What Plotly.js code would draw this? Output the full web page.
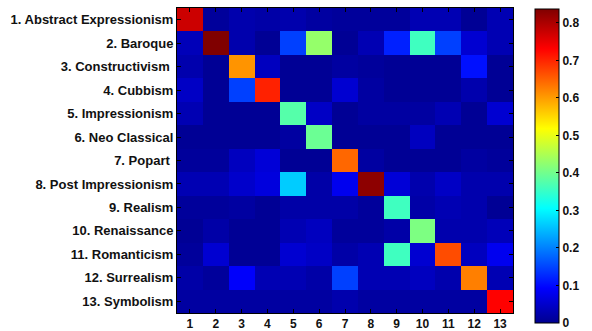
<!DOCTYPE html>
<html>
<head>
<meta charset="utf-8">
<script src="https://cdn.plot.ly/plotly-3.0.1.min.js"></script>
<style>html,body{margin:0;padding:0;background:#fff;}#chart{width:592px;height:331px;}</style>
</head>
<body>
<div id="chart"></div>
<script>
var classLabels = ["1. Abstract Expressionism", "2. Baroque", "3. Constructivism\u00a0", "4. Cubbism",
  "5. Impressionism", "6. Neo Classical", "7. Popart\u00a0", "8. Post Impressionism", "9. Realism",
  "10. Renaissance", "11. Romanticism", "12. Surrealism", "13. Symbolism"];
var predictedLabels = [1,2,3,4,5,6,7,8,9,10,11,12,13];
var rowAbstract = [0.773, 0.01, 0.025, 0.02, 0.025, 0.015, 0.01, 0.01, 0.01, 0.03, 0.03, 0.005, 0.03];
var rowBaroque = [0.035, 0.837, 0.025, 0.005, 0.146, 0.43, 0.005, 0.03, 0.12, 0.358, 0.146, 0.055, 0.03];
var rowConstructivism = [0.025, 0.005, 0.607, 0.04, 0.005, 0.005, 0.015, 0.01, 0.005, 0.005, 0.005, 0.106, 0.005];
var rowCubbism = [0.045, 0.005, 0.146, 0.703, 0.005, 0.005, 0.055, 0.015, 0.005, 0.005, 0.005, 0.025, 0.005];
var rowImpressionism = [0.03, 0.005, 0.005, 0.005, 0.376, 0.045, 0.005, 0.015, 0.015, 0.015, 0.03, 0.005, 0.055];
var rowNeoClassical = [0.005, 0.005, 0.005, 0.005, 0.015, 0.395, 0.005, 0.005, 0.005, 0.04, 0.005, 0.005, 0.005];
var rowPopart = [0.01, 0.01, 0.04, 0.06, 0.005, 0.005, 0.645, 0.015, 0.005, 0.005, 0.005, 0.015, 0.01];
var rowPostImpressionism = [0.03, 0.03, 0.05, 0.065, 0.263, 0.02, 0.08, 0.826, 0.06, 0.025, 0.045, 0.025, 0.025];
var rowRealism = [0.01, 0.01, 0.015, 0.005, 0.02, 0.02, 0.02, 0.01, 0.358, 0.02, 0.03, 0.025, 0.005];
var rowRenaissance = [0.005, 0.02, 0.005, 0.005, 0.03, 0.04, 0.01, 0.01, 0.02, 0.41, 0.025, 0.025, 0.035];
var rowRomanticism = [0.01, 0.055, 0.005, 0.005, 0.055, 0.045, 0.02, 0.03, 0.358, 0.055, 0.667, 0.04, 0.08];
var rowSurrealism = [0.02, 0.01, 0.09, 0.03, 0.03, 0.02, 0.146, 0.03, 0.03, 0.04, 0.025, 0.625, 0.03];
var rowSymbolism = [0.015, 0.015, 0.015, 0.015, 0.015, 0.015, 0.025, 0.015, 0.015, 0.015, 0.015, 0.015, 0.73];
var colorbarTicks = [0, 0.1, 0.2, 0.3, 0.4, 0.5, 0.6, 0.7, 0.8];

var z = [rowAbstract, rowBaroque, rowConstructivism, rowCubbism, rowImpressionism, rowNeoClassical,
  rowPopart, rowPostImpressionism, rowRealism, rowRenaissance, rowRomanticism, rowSurrealism, rowSymbolism];

var jet = [[0,'rgb(0,0,143)'],[0.111,'rgb(0,0,255)'],[0.365,'rgb(0,255,255)'],
  [0.619,'rgb(255,255,0)'],[0.873,'rgb(255,0,0)'],[1,'rgb(128,0,0)']];

var font = {family: 'Liberation Sans, Arial, sans-serif', size: 13, color: '#111', weight: 'bold'};
var smallFont = {family: 'Liberation Sans, Arial, sans-serif', size: 12, color: '#111', weight: 'bold'};

var trace = {
  type: 'heatmap',
  x: predictedLabels,
  y: classLabels,
  z: z,
  zmin: 0, zmax: 0.837,
  colorscale: jet,
  colorbar: {
    x: 1.066, xanchor: 'left', xref: 'paper',
    y: 0.482, yanchor: 'middle',
    lenmode: 'pixels', len: 314,
    thicknessmode: 'pixels', thickness: 24,
    outlinecolor: '#000', outlinewidth: 1,
    tickvals: colorbarTicks,
    ticktext: colorbarTicks.map(String),
    ticks: 'inside', ticklen: 3, tickcolor: '#000',
    tickfont: smallFont,
    xpad: 0, ypad: 0
  }
};

var layout = {
  width: 592, height: 331,
  margin: {l: 177, r: 69, t: 8, b: 18},
  paper_bgcolor: '#fff', plot_bgcolor: '#fff',
  font: font,
  xaxis: {
    type: 'category', tickvals: predictedLabels, ticktext: predictedLabels.map(String),
    showline: true, linecolor: '#000', linewidth: 1, mirror: 'ticks',
    ticks: 'inside', ticklen: 4, tickcolor: '#000', showgrid: false, zeroline: false,
    tickfont: smallFont, ticklabelstandoff: 0
  },
  yaxis: {
    type: 'category', autorange: 'reversed',
    showline: true, linecolor: '#000', linewidth: 1, mirror: 'ticks',
    ticks: 'inside', ticklen: 4, tickcolor: '#000', showgrid: false, zeroline: false,
    tickfont: font
  }
};

Plotly.newPlot('chart', [trace], layout, {staticPlot: true, displayModeBar: false});
</script>
</body>
</html>
